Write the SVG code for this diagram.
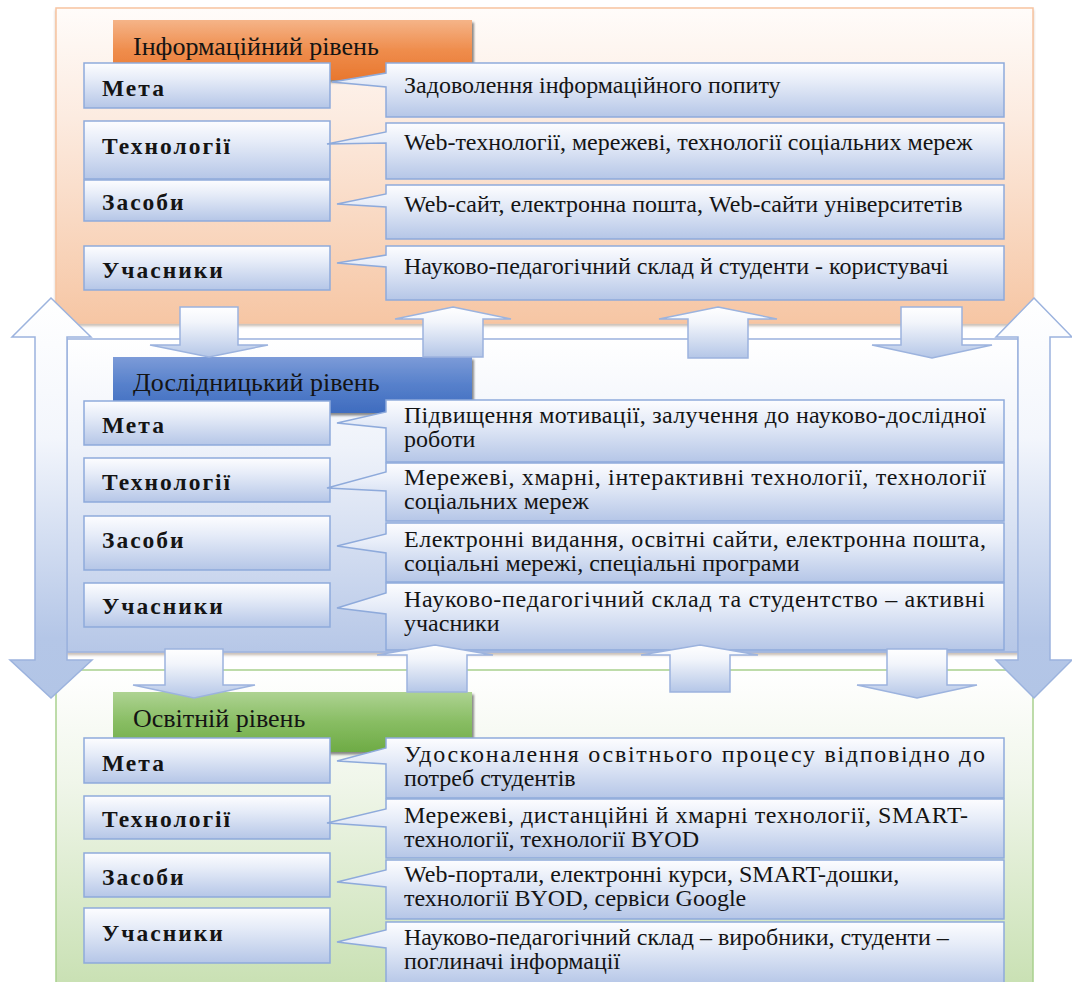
<svg xmlns="http://www.w3.org/2000/svg" width="1072" height="982" viewBox="0 0 1072 982">
  <defs>
    <linearGradient id="gPanelOrange" x1="0" y1="0" x2="0" y2="1">
      <stop offset="0" stop-color="#fffcfa"/>
      <stop offset="0.35" stop-color="#fcebe0"/>
      <stop offset="1" stop-color="#f6c6a4"/>
    </linearGradient>
    <linearGradient id="gPanelBlue" x1="0" y1="0" x2="0" y2="1">
      <stop offset="0" stop-color="#ffffff"/>
      <stop offset="0.35" stop-color="#eef2fa"/>
      <stop offset="1" stop-color="#b6c7e7"/>
    </linearGradient>
    <linearGradient id="gPanelGreen" x1="0" y1="0" x2="0" y2="1">
      <stop offset="0" stop-color="#ffffff"/>
      <stop offset="0.35" stop-color="#f0f6ea"/>
      <stop offset="1" stop-color="#c8e0b2"/>
    </linearGradient>
    <linearGradient id="gHdrOrange" x1="0" y1="0" x2="0" y2="1">
      <stop offset="0" stop-color="#f5b488"/>
      <stop offset="0.5" stop-color="#ef8d4d"/>
      <stop offset="1" stop-color="#e8772e"/>
    </linearGradient>
    <linearGradient id="gHdrBlue" x1="0" y1="0" x2="0" y2="1">
      <stop offset="0" stop-color="#7c9bd8"/>
      <stop offset="0.5" stop-color="#5680cb"/>
      <stop offset="1" stop-color="#3f6cbf"/>
    </linearGradient>
    <linearGradient id="gHdrGreen" x1="0" y1="0" x2="0" y2="1">
      <stop offset="0" stop-color="#aed392"/>
      <stop offset="0.5" stop-color="#88bd63"/>
      <stop offset="1" stop-color="#6eab45"/>
    </linearGradient>
    <linearGradient id="gBox" x1="0" y1="0" x2="0" y2="1">
      <stop offset="0" stop-color="#fdfdff"/>
      <stop offset="0.35" stop-color="#e6ecf8"/>
      <stop offset="1" stop-color="#b5c6e7"/>
    </linearGradient>
    <linearGradient id="gArrow" x1="0" y1="0" x2="0" y2="1">
      <stop offset="0" stop-color="#ffffff"/>
      <stop offset="0.3" stop-color="#f2f5fb"/>
      <stop offset="1" stop-color="#b4c6e7"/>
    </linearGradient>
    <linearGradient id="gSide" gradientUnits="userSpaceOnUse" x1="0" y1="298" x2="0" y2="698">
      <stop offset="0" stop-color="#ffffff"/>
      <stop offset="0.35" stop-color="#f3f6fc"/>
      <stop offset="0.85" stop-color="#b4c6e7"/>
      <stop offset="1" stop-color="#b2c5e6"/>
    </linearGradient>
    <filter id="shadow" x="-5%" y="-5%" width="110%" height="115%">
      <feDropShadow dx="2" dy="2.5" stdDeviation="1.2" flood-color="#000" flood-opacity="0.45"/>
    </filter>
    <filter id="panelShadow" x="-2%" y="-2%" width="104%" height="106%">
      <feDropShadow dx="0" dy="2.5" stdDeviation="1.2" flood-color="#6b4a30" flood-opacity="0.35"/>
    </filter>
  </defs>
  <style>
    text { font-family: "Liberation Serif", "Times New Roman", serif; fill: #141414; }
    .hdr { font-size: 26px; }
    .lbl { font-size: 23.5px; font-weight: bold; letter-spacing: 2px; }
    .txt { font-size: 24px; }
    .box { fill: url(#gBox); stroke: #8eaadb; stroke-width: 1.5; }
    .arrow { fill: url(#gArrow); stroke: #9cb3de; stroke-width: 1.5; stroke-linejoin: miter; }
    .side { fill: url(#gSide); stroke: #9cb3de; stroke-width: 1.5; }
  </style>

  <rect width="1072" height="982" fill="#ffffff"/>

  <!-- Information level -->
  <g id="level-info">
    <rect x="56" y="8" width="977" height="315" fill="url(#gPanelOrange)" stroke="#f7c3a0" stroke-width="1.5" filter="url(#panelShadow)"/>
    <rect x="113" y="20" width="359" height="60" fill="url(#gHdrOrange)" filter="url(#shadow)"/>
    <text class="hdr" x="133" y="55">Інформаційний рівень</text>
    <g id="info-meta">
      <rect class="box" x="84" y="63" width="246" height="45"/>
      <text class="lbl" x="102" y="96">Мета</text>
      <path class="box" d="M386,63 H1004 V117 H386 V87 L332,82 L386,73 Z"/>
      <text class="txt" x="404" y="93">Задоволення інформаційного попиту</text>
    </g>
    <g id="info-tech">
      <rect class="box" x="84" y="121" width="246" height="58"/>
      <text class="lbl" x="102" y="154">Технології</text>
      <path class="box" d="M386,123 H1004 V179 H386 V143 L327,144 L386,132 Z"/>
      <text class="txt" x="404" y="150">Web-технології, мережеві, технології соціальних мереж</text>
    </g>
    <g id="info-tools">
      <rect class="box" x="84" y="180" width="246" height="41"/>
      <text class="lbl" x="102" y="210">Засоби</text>
      <path class="box" d="M386,185 H1004 V239 H386 V207 L337,204 L386,194 Z"/>
      <text class="txt" x="404" y="212">Web-сайт, електронна пошта, Web-сайти університетів</text>
    </g>
    <g id="info-members">
      <rect class="box" x="84" y="246" width="246" height="44"/>
      <text class="lbl" x="102" y="278">Учасники</text>
      <path class="box" d="M386,246 H1004 V300 H386 V267 L337,263 L386,255 Z"/>
      <text class="txt" x="404" y="274">Науково-педагогічний склад й студенти - користувачі</text>
    </g>
  </g>

  <!-- Research level -->
  <g id="level-research">
    <rect x="67" y="339" width="951" height="313" fill="url(#gPanelBlue)" stroke="#9cb3de" stroke-width="1.5" filter="url(#panelShadow)"/>
    <rect x="113" y="357" width="359" height="56" fill="url(#gHdrBlue)" filter="url(#shadow)"/>
    <text class="hdr" x="133" y="391">Дослідницький рівень</text>
    <g id="research-meta">
      <rect class="box" x="84" y="401" width="246" height="44"/>
      <text class="lbl" x="102" y="433">Мета</text>
      <path class="box" d="M386,400 H1004 V462 H386 V428 L337,423 L386,412 Z"/>
      <text class="txt" x="404" y="423" textLength="582" lengthAdjust="spacing">Підвищення мотивації, залучення до науково-дослідної</text>
      <text class="txt" x="404" y="447">роботи</text>
    </g>
    <g id="research-tech">
      <rect class="box" x="84" y="458" width="246" height="44"/>
      <text class="lbl" x="102" y="490">Технології</text>
      <path class="box" d="M386,463 H1004 V521 H386 V491 L327,488 L386,472 Z"/>
      <text class="txt" x="404" y="485" textLength="582" lengthAdjust="spacing">Мережеві, хмарні, інтерактивні технології, технології</text>
      <text class="txt" x="404" y="509">соціальних мереж</text>
    </g>
    <g id="research-tools">
      <rect class="box" x="84" y="516" width="246" height="54"/>
      <text class="lbl" x="102" y="548">Засоби</text>
      <path class="box" d="M386,523 H1004 V582 H386 V553 L337,546 L386,534 Z"/>
      <text class="txt" x="404" y="547" textLength="582" lengthAdjust="spacing">Електронні видання, освітні сайти, електронна пошта,</text>
      <text class="txt" x="404" y="571">соціальні мережі, спеціальні програми</text>
    </g>
    <g id="research-members">
      <rect class="box" x="84" y="583" width="246" height="44"/>
      <text class="lbl" x="102" y="614">Учасники</text>
      <path class="box" d="M386,583 H1004 V650 H386 V614 L337,608 L386,593 Z"/>
      <text class="txt" x="404" y="607" textLength="581" lengthAdjust="spacing">Науково-педагогічний склад та студентство – активні</text>
      <text class="txt" x="404" y="631">учасники</text>
    </g>
  </g>

  <!-- Educational level -->
  <g id="level-education">
    <rect x="56" y="670" width="977" height="320" fill="url(#gPanelGreen)" stroke="#a9d18e" stroke-width="1.5"/>
    <rect x="113" y="692" width="359" height="60" fill="url(#gHdrGreen)" filter="url(#shadow)"/>
    <text class="hdr" x="133" y="727">Освітній рівень</text>
    <g id="education-meta">
      <rect class="box" x="84" y="738" width="246" height="45"/>
      <text class="lbl" x="102" y="771">Мета</text>
      <path class="box" d="M386,738 H1004 V798 H386 V764 L337,761 L386,748 Z"/>
      <text class="txt" x="404" y="762" textLength="581" lengthAdjust="spacing">Удосконалення освітнього процесу відповідно до</text>
      <text class="txt" x="404" y="786">потреб студентів</text>
    </g>
    <g id="education-tech">
      <rect class="box" x="84" y="796" width="246" height="43"/>
      <text class="lbl" x="102" y="827">Технології</text>
      <path class="box" d="M386,799 H1004 V858 H386 V827 L327,823 L386,809 Z"/>
      <text class="txt" x="404" y="823" textLength="564" lengthAdjust="spacing">Мережеві, дистанційні й хмарні технології, SMART-</text>
      <text class="txt" x="404" y="847">технології, технології BYOD</text>
    </g>
    <g id="education-tools">
      <rect class="box" x="84" y="853" width="246" height="44"/>
      <text class="lbl" x="102" y="885">Засоби</text>
      <path class="box" d="M386,860 H1004 V919 H386 V887 L337,882 L386,870 Z"/>
      <text class="txt" x="404" y="882">Web-портали, електронні курси, SMART-дошки,</text>
      <text class="txt" x="404" y="906">технології BYOD, сервіси Google</text>
    </g>
    <g id="education-members">
      <rect class="box" x="84" y="908" width="246" height="55"/>
      <text class="lbl" x="102" y="941">Учасники</text>
      <path class="box" d="M386,922 H1004 V985 H386 V948 L337,942 L386,930 Z"/>
      <text class="txt" x="404" y="945">Науково-педагогічний склад – виробники, студенти –</text>
      <text class="txt" x="404" y="969">поглиначі інформації</text>
    </g>
  </g>

  <!-- Block arrows linking the levels -->
  <g id="connectors">
    <!-- information -> research -->
    <path class="arrow" d="M180,307 H238 V345 H268 L209,357 L150,345 H180 Z"/>
    <path class="arrow" d="M453,307 L511,319 H483 V357 H423 V319 H395 Z"/>
    <path class="arrow" d="M718,307 L777,319 H748 V358 H688 V319 H659 Z"/>
    <path class="arrow" d="M901,307 H962 V345 H992 L932,358 L872,345 H901 Z"/>
    <!-- research -> education -->
    <path class="arrow" d="M165,649 H223 V685 H255 L194,698 L133,685 H165 Z"/>
    <path class="arrow" d="M435,645 L493,655 H467 V692 H407 V655 H377 Z"/>
    <path class="arrow" d="M700,645 L758,655 H730 V692 H670 V655 H641 Z"/>
    <path class="arrow" d="M887,649 H947 V685 H977 L917,698 L857,685 H887 Z"/>
    <!-- side arrows spanning all levels -->
    <path class="side" d="M51,298 L91,337 H67 V660 H92 L51,698 L10,660 H35 V337 H12 Z"/>
    <path class="side" d="M1034,298 L1072,337 H1050 V660 H1072 L1034,698 L996,660 H1018 V337 H996 Z"/>
  </g>
</svg>
